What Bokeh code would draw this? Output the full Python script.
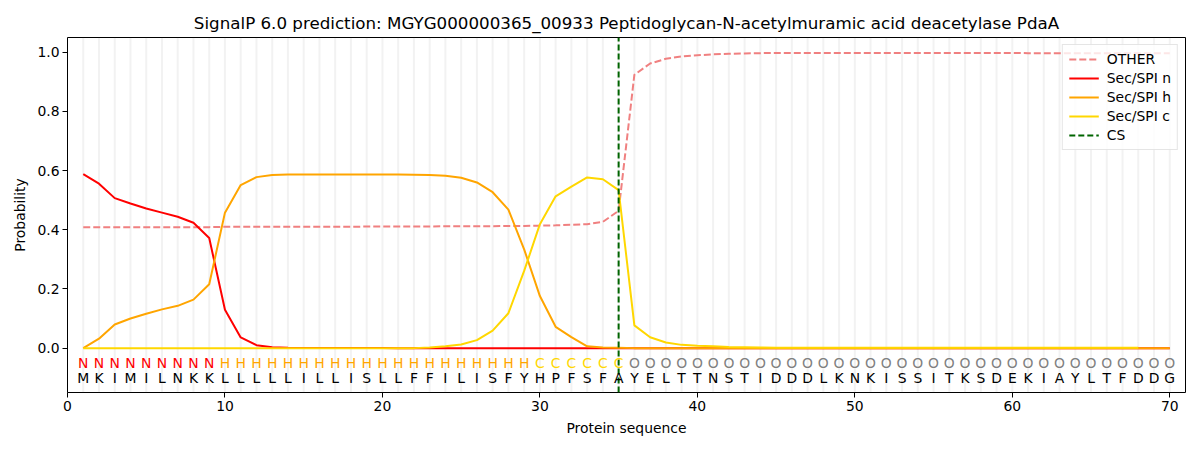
from bokeh.plotting import figure
from bokeh.models import Range1d, FixedTicker, PrintfTickFormatter, Legend, LegendItem, ColumnDataSource
from bokeh.core.properties import value
from bokeh.embed import file_html
from bokeh.resources import INLINE

title = "SignalP 6.0 prediction: MGYG000000365_00933 Peptidoglycan-N-acetylmuramic acid deacetylase PdaA"
sequence = list("MKIMILNKKLLLLLILLISLLFFILISFYHPFSFAYELTTNSTIDDDLKNKISSITKSDEKIAYLTFDDG")
labels = list("N" * 9 + "H" * 20 + "C" * 6 + "O" * 35)
positions = list(range(1, len(sequence) + 1))
cs_pos = 35

other = [0.409, 0.409, 0.409, 0.409, 0.409, 0.409, 0.409, 0.409, 0.409, 0.410,
         0.410, 0.410, 0.410, 0.410, 0.410, 0.410, 0.410, 0.410, 0.411, 0.411,
         0.411, 0.411, 0.411, 0.412, 0.412, 0.412, 0.412, 0.413, 0.413, 0.414,
         0.415, 0.417, 0.419, 0.427, 0.464, 0.924, 0.962, 0.978, 0.986, 0.990,
         0.993, 0.995, 0.996, 0.997, 0.998, 0.998, 0.998, 0.998, 0.998, 0.998,
         0.998, 0.998, 0.998, 0.998, 0.998, 0.998, 0.998, 0.998, 0.998, 0.998,
         0.997, 0.997, 0.997, 0.997, 0.997, 0.997, 0.997, 0.997, 0.997, 0.997]
sec_n = [0.588, 0.556, 0.507, 0.489, 0.472, 0.458, 0.444, 0.424, 0.372, 0.130,
         0.036, 0.010, 0.003, 0.001, 0.0005, 0.0003, 0.0002, 0.0002, 0.0001, 0.0001] + [0.0] * 50
sec_h = [0.0, 0.032, 0.080, 0.100, 0.116, 0.131, 0.143, 0.164, 0.216, 0.458,
         0.551, 0.578, 0.585, 0.587, 0.587, 0.587, 0.587, 0.587, 0.587, 0.587,
         0.587, 0.586, 0.585, 0.583, 0.576, 0.560, 0.527, 0.468, 0.334, 0.176,
         0.072, 0.037, 0.006, 0.002, 0.001] + [0.0] * 35
sec_c = [0.0] * 22 + [0.002, 0.006, 0.012, 0.027, 0.059, 0.118, 0.261, 0.419,
         0.513, 0.546, 0.577, 0.571, 0.534, 0.077, 0.037, 0.019, 0.011, 0.008,
         0.006, 0.004, 0.003, 0.002, 0.0015, 0.001, 0.001, 0.001, 0.001, 0.001,
         0.001, 0.001, 0.001, 0.001, 0.001, 0.001, 0.001, 0.001, 0.001, 0.001,
         0.001, 0.001, 0.001, 0.001, 0.001, 0.001, 0.001, 0.001]

x_min, x_max = 0, 71
y_min, y_max = -0.15, 1.05
x_ticks = [0, 10, 20, 30, 40, 50, 60, 70]
y_ticks = [0.0, 0.2, 0.4, 0.6, 0.8, 1.0]
label_colors = {"N": "red", "H": "orange", "C": "gold", "O": "grey"}

FONT = "DejaVu Sans"
FS = "13.9px"

p = figure(width=1192, height=442, output_backend="svg", toolbar_location=None,
           x_range=Range1d(x_min, x_max), y_range=Range1d(y_min, y_max),
           title=title)
p.min_border_left = 67
p.min_border_right = 7
p.min_border_top = 37
p.min_border_bottom = 50
p.xgrid.visible = False
p.ygrid.visible = False
p.outline_line_color = "black"
p.outline_line_alpha = 1.0
p.outline_line_width = 1

p.title.align = "center"
p.title.text_font = FONT
p.title.text_font_size = "16.7px"
p.title.text_font_style = "normal"
p.title.text_color = "black"

for ax in (p.xaxis[0], p.yaxis[0]):
    ax.major_label_text_font = FONT
    ax.major_label_text_font_size = FS
    ax.major_label_text_color = "black"
    ax.axis_label_text_font = FONT
    ax.axis_label_text_font_size = FS
    ax.axis_label_text_font_style = "normal"
    ax.axis_label_text_color = "black"
    ax.major_tick_in = 0
    ax.major_tick_out = 5
    ax.major_tick_line_color = "black"
    ax.minor_tick_out = 0
    ax.minor_tick_in = 0
    ax.axis_line_color = None
    ax.major_label_standoff = 3
    ax.axis_label_standoff = 6

p.xaxis.ticker = FixedTicker(ticks=x_ticks)
p.yaxis.ticker = FixedTicker(ticks=y_ticks)
p.yaxis.formatter = PrintfTickFormatter(format="%.1f")
p.xaxis.axis_label = "Protein sequence"
p.yaxis.axis_label = "Probability"

# vertical residue grid
p.segment(x0=positions, x1=positions, y0=[y_min] * len(positions), y1=[y_max] * len(positions),
          line_color="#808080", line_alpha=0.1, line_width=2)

r_other = p.line(positions, other, line_color="lightcoral", line_width=2, line_dash="7 3")
r_n = p.line(positions, sec_n, line_color="red", line_width=2)
r_h = p.line(positions, sec_h, line_color="orange", line_width=2)
r_c = p.line(positions, sec_c, line_color="gold", line_width=2)
r_cs = p.line([cs_pos, cs_pos], [y_min, y_max], line_color="darkgreen", line_width=2, line_dash="6 3")

src = ColumnDataSource(dict(x=positions, lab=labels, aa=sequence,
                            col=[label_colors[l] for l in labels],
                            y1=[-0.05] * len(positions), y2=[-0.10] * len(positions)))
p.text(x="x", y="y1", text="lab", text_color="col", source=src, text_align="center",
       text_baseline="middle", text_font=value(FONT), text_font_size=FS)
p.text(x="x", y="y2", text="aa", text_color="black", source=src, text_align="center",
       text_baseline="middle", text_font=value(FONT), text_font_size=FS)

legend = Legend(items=[
    LegendItem(label="OTHER", renderers=[r_other]),
    LegendItem(label="Sec/SPI n", renderers=[r_n]),
    LegendItem(label="Sec/SPI h", renderers=[r_h]),
    LegendItem(label="Sec/SPI c", renderers=[r_c]),
    LegendItem(label="CS", renderers=[r_cs]),
], location="top_right")
legend.label_text_font = FONT
legend.label_text_font_size = FS
legend.label_text_color = "black"
legend.border_line_color = "#cccccc"
legend.background_fill_alpha = 0.8
legend.glyph_width = 30
legend.glyph_height = 16
legend.label_height = 16
legend.spacing = 3
legend.padding = 6
legend.margin = 7
legend.label_standoff = 8
p.add_layout(legend)

open("out.html", "w").write(file_html(p, INLINE))
